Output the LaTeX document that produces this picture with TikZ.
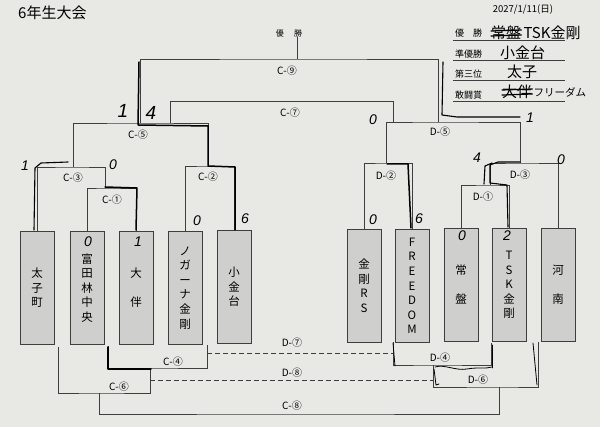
\documentclass[tikz,border=0pt]{standalone}
\usepackage{fontspec}
\setmainfont{Noto Sans CJK JP}
\newfontfamily\handfont{Liberation Sans}
\usetikzlibrary{positioning}
\definecolor{paper}{RGB}{232,232,229}
\definecolor{boxgray}{RGB}{207,207,206}
\definecolor{ink}{RGB}{62,62,62}

\begin{document}
\begin{tikzpicture}[x=1pt,y=-1pt,
    line/.style={ink,line width=0.6pt},
    team/.style={draw=ink,line width=0.7pt,fill=boxgray,minimum width=34pt,minimum height=113pt,
      inner sep=0pt,align=center,anchor=north,font=\fontsize{11.5}{14.6}\selectfont},
    game/.style={inner sep=0pt,font=\fontsize{10}{10}\selectfont},
    score/.style={inner sep=0pt,font=\handfont\itshape\fontsize{14}{14}\selectfont},
    hand/.style={black,line width=1.5pt,line join=round,line cap=round},
    pen/.style={black,line width=0.8pt,line join=round,line cap=round},
    memo/.style={anchor=west,inner sep=0pt,font=\fontsize{9}{10}\selectfont},
    answer/.style={anchor=west,inner sep=0pt,font=\fontsize{15}{15}\selectfont}]
    \useasboundingbox (0,0) rectangle (600,427);
    \fill[paper] (0,0) rectangle (600,427);

    \node[anchor=west,inner sep=0pt,font=\fontsize{15}{15}\selectfont] (title) at (18,13) {6年生大会};
    \node[inner sep=0pt,font=\fontsize{9.5}{9.5}\selectfont] (date) at (523,10) {2027/1/11(日)};

    % teams
    \foreach \n/\x/\y/\t in {c1/37/231/{太\\子\\町}, c2/87/231/{富\\田\\林\\中\\央}, c3/136/231/{大\\[14.5pt]伴},
      c4/185/231/{ノ\\ガ\\ー\\ナ\\金\\剛}, c5/234/230/{小\\金\\台}, d1/364/229/{金\\剛\\R\\S},
      d2/412/229/{F\\R\\E\\E\\D\\O\\M}, d3/461/228/{常\\[14.5pt]盤}, d4/509/228/{T\\S\\K\\金\\剛},
      d5/558/228/{河\\[14.5pt]南}}
    \node[team] (\n) at (\x,\y) {\t};

    % upper bracket
    \coordinate (m1) at (105,188);
    \coordinate (m3) at (73,167);
    \coordinate (m2) at (208,166);
    \coordinate (m5) at (140,123);
    \coordinate (n2) at (386,163);
    \coordinate (n1) at (490,185);
    \coordinate (n3) at (520,163);
    \coordinate (n5) at (438,122);
    \coordinate (fin) at (297,59);
    \coordinate (c7a) at (170,123);
    \coordinate (c7b) at (393,122);
    \draw[line] (c2.north) |- (m1) -| (c3.north);
    \draw[line] (c1.north) |- (m3) -| (m1);
    \draw[line] (c4.north) |- (m2) -| (c5.north);
    \draw[line] (m3) |- (m5) -| (m2);
    \draw[line] (d1.north) |- (n2) -| (d2.north);
    \draw[line] (d3.north) |- (n1) -| (d4.north);
    \draw[line] (n1) |- (n3) -| (d5.north);
    \draw[line] (n2) |- (n5) -| (n3);
    \draw[line] (m5) |- (fin) -| (n5);
    \draw[line] (c7a) -- ++(0,-22) -| (c7b);

    % lower bracket
    \coordinate (b4a) at (108,346);
    \coordinate (b4b) at (207,345);
    \coordinate (m4) at (150,368);
    \coordinate (b6a) at (58,347);
    \coordinate (m6) at (99,393);
    \coordinate (e4a) at (393,342);
    \coordinate (e4b) at (491,343);
    \coordinate (n4) at (433,365);
    \coordinate (e6b) at (538,342);
    \coordinate (n6) at (499,387);
    \coordinate (c8) at (292,414);
    \draw[line] (b4a) |- (m4) -| (b4b);
    \draw[line] (b6a) |- (m6) -| (m4);
    \draw[line] (e4a) |- (n4) -| (e4b);
    \draw[line] (n4) |- (n6) -| (e6b);
    \draw[line] (m6) |- (c8) -| (n6);
    \coordinate (d7a) at (207,353);
    \coordinate (d7b) at (393,353);
    \coordinate (d8a) at (150,380);
    \coordinate (d8b) at (433,380);
    \draw[line,dash pattern=on 5pt off 3pt] (d7a) -- (d7b);
    \draw[line,dash pattern=on 5pt off 3pt] (d8a) -- (d8b);

    % game labels
    \node[game,font=\fontsize{8}{8}\selectfont] (win) at (289,33) {優\hspace{1.3em}勝};
    \draw[line] (fin) -- (fin |- win.south);
    \foreach \n/\x/\y/\t in {g9/287/71/C-⑨, g7/290/113/C-⑦, g5/138/135/C-⑤, g3/73/178/C-③,
      g1/112/200/C-①, g2/208/177/C-②, h2/386/176/D-②, h5/440/132/D-⑤, h3/520/175/D-③,
      h1/483/197/D-①, g4/173/362/C-④, g6/119/387/C-⑥, h7/292/343/D-⑦, h8/292/373/D-⑧,
      g8/292/406/C-⑧, h4/440/358/D-④, h6/478/380/D-⑥}
    \node[game] (\n) at (\x,\y) {\t};

    % scores
    \foreach \n/\x/\y/\t in {s1/25/166/1, s2/113/165/0, s3/88/242/0, s4/138/242/1, s5/197/221/0,
      s6/245/219/6, s7/373/220/0, s8/419/219/6, s9/477/158/4, s10/561/160/0, s11/462/236/0,
      s12/507/236/2, s13/373/120/0, s14/530/118/1}
    \node[score] (\n) at (\x,\y) {\t};
    \node[score,font=\handfont\itshape\fontsize{19}{19}\selectfont] (s15) at (123,111) {1};
    \node[score,font=\handfont\itshape\fontsize{19}{19}\selectfont] (s16) at (151,113) {4};

    % winner lines
    \draw[hand] (139,62) -- (138,125) -- (208,126) -- (208,166) -- (235,167) -- (235,230);
    \draw[hand] (136,230) -- (137,188) -- (105,187);
    \draw[hand] (411,228) -- (408,164) -- (387,164);
    \draw[hand] (108,347) -- (108,369) -- (151,369);
    \draw[pen,line width=1.1pt] (34,230) -- (35,168) -- (41,163) -- (68,162);
    \draw[pen,line width=1.1pt] (508,227) -- (507,185) -- (490,183) -- (490,165) -- (498,162) -- (520,162);
    \draw[pen,line width=1.1pt] (484,184) -- (485,166) -- (492,163);
    \draw[pen,line width=1.1pt] (443,62) -- (442,115) -- (457,117) -- (520,117);
    \draw[pen] (393,343) -- (395,366);
    \draw[pen] (435,367) .. controls (445,364) and (455,371) .. (467,369) .. controls (478,367) and (486,369) .. (492,367);
    \draw[pen] (434,369) -- (436,385) -- (439,384);
    \draw[pen] (492,345) -- (492,368);
    \draw[pen] (533,343) -- (537,385);

    % results
    \node[memo] (k1) at (455,33) {優\hspace{1em}勝};
    \node[memo] (k2) at (455,54) {準優勝};
    \node[memo] (k3) at (455,74) {第三位};
    \node[memo] (k4) at (455,95) {敢闘賞};
    \foreach \y in {40,60,80,101}
    \draw[line,line width=0.4pt] (453,\y) -- (565,\y);
    \node[answer] (a0) at (491,33) {常盤};
    \node[answer,right=2pt of a0] (a1) {TSK金剛};
    \node[answer] (a2) at (500,53) {小金台};
    \node[answer] (a3) at (507,72) {太子};
    \node[answer] (a4) at (502,92) {大伴};
    \node[answer,font=\fontsize{10.5}{10.5}\selectfont,right=1pt of a4] (a5) {フリーダム};
    \draw[pen,line width=1.2pt] ([yshift=2pt]a0.west) -- ([yshift=3pt]a0.east) ([yshift=-3pt]a0.west) -- ([yshift=-2pt]a0.east);
    \draw[pen,line width=1.2pt] ([yshift=2pt]a4.west) -- ([yshift=3pt]a4.east) ([yshift=-3pt]a4.west) -- ([yshift=-2pt]a4.east);
\end{tikzpicture}
\end{document}
